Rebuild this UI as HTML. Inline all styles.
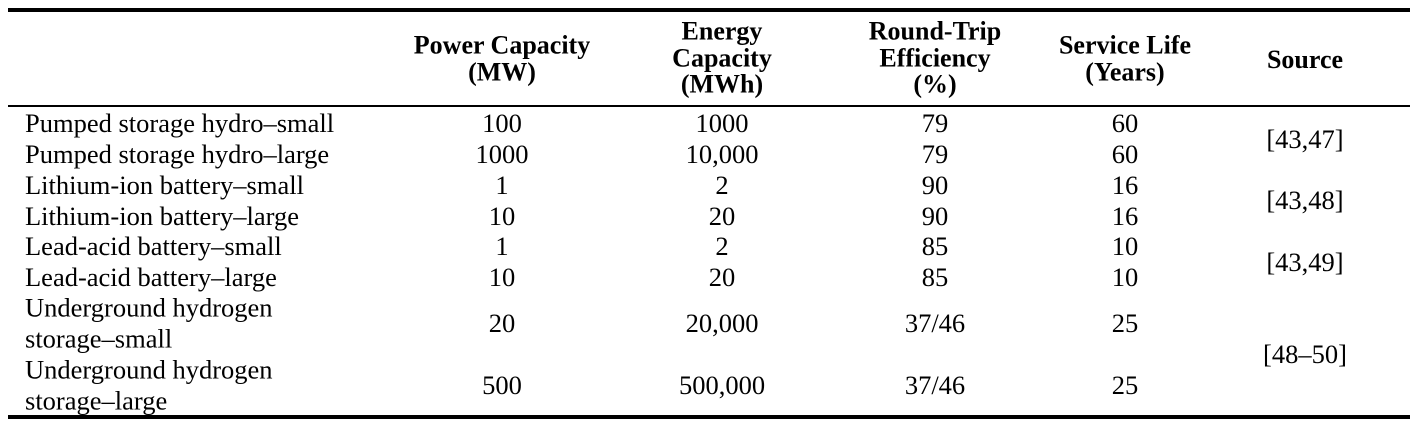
<!DOCTYPE html>
<html><head><meta charset="utf-8"><style>
body{margin:0;width:1410px;height:428px;background:#fff;position:relative;overflow:hidden;font-family:"Liberation Serif","Times New Roman",serif;color:#000}
.r{position:absolute;left:8px;width:1402px;background:#000}
.t{position:absolute;font-size:26.5px;line-height:30px;white-space:nowrap;transform:translate(-50%,-50%)}
.l{position:absolute;font-size:26.5px;line-height:30.5px;white-space:nowrap;left:25px;transform:translateY(-50%)}
.h{position:absolute;font-size:26px;font-weight:bold;line-height:26.5px;text-align:center;white-space:nowrap;transform:translate(-50%,-50%)}
</style></head><body>
<div class="r" style="top:8px;height:4px"></div>
<div class="r" style="top:105px;height:2px"></div>
<div class="r" style="top:415px;height:4px"></div>

<div class="h" style="left:502px;top:59px">Power Capacity<br>(MW)</div>
<div class="h" style="left:722px;top:58px">Energy<br>Capacity<br>(MWh)</div>
<div class="h" style="left:935px;top:58px">Round-Trip<br>Efficiency<br>(%)</div>
<div class="h" style="left:1125px;top:59px">Service Life<br>(Years)</div>
<div class="h" style="left:1305px;top:60px">Source</div>

<div class="l" style="top:123px">Pumped storage hydro–small</div>
<div class="l" style="top:154px">Pumped storage hydro–large</div>
<div class="l" style="top:185px">Lithium-ion battery–small</div>
<div class="l" style="top:216px">Lithium-ion battery–large</div>
<div class="l" style="top:246px">Lead-acid battery–small</div>
<div class="l" style="top:277px">Lead-acid battery–large</div>
<div class="l" style="top:323px">Underground hydrogen<br>storage–small</div>
<div class="l" style="top:385px">Underground hydrogen<br>storage–large</div>

<div class="t" style="left:502px;top:123px">100</div>
<div class="t" style="left:502px;top:154px">1000</div>
<div class="t" style="left:502px;top:185px">1</div>
<div class="t" style="left:502px;top:216px">10</div>
<div class="t" style="left:502px;top:246px">1</div>
<div class="t" style="left:502px;top:277px">10</div>
<div class="t" style="left:502px;top:323px">20</div>
<div class="t" style="left:502px;top:385px">500</div>

<div class="t" style="left:722px;top:123px">1000</div>
<div class="t" style="left:722px;top:154px">10,000</div>
<div class="t" style="left:722px;top:185px">2</div>
<div class="t" style="left:722px;top:216px">20</div>
<div class="t" style="left:722px;top:246px">2</div>
<div class="t" style="left:722px;top:277px">20</div>
<div class="t" style="left:722px;top:323px">20,000</div>
<div class="t" style="left:722px;top:385px">500,000</div>

<div class="t" style="left:935px;top:123px">79</div>
<div class="t" style="left:935px;top:154px">79</div>
<div class="t" style="left:935px;top:185px">90</div>
<div class="t" style="left:935px;top:216px">90</div>
<div class="t" style="left:935px;top:246px">85</div>
<div class="t" style="left:935px;top:277px">85</div>
<div class="t" style="left:935px;top:323px">37/46</div>
<div class="t" style="left:935px;top:385px">37/46</div>

<div class="t" style="left:1125px;top:123px">60</div>
<div class="t" style="left:1125px;top:154px">60</div>
<div class="t" style="left:1125px;top:185px">16</div>
<div class="t" style="left:1125px;top:216px">16</div>
<div class="t" style="left:1125px;top:246px">10</div>
<div class="t" style="left:1125px;top:277px">10</div>
<div class="t" style="left:1125px;top:323px">25</div>
<div class="t" style="left:1125px;top:385px">25</div>

<div class="t" style="left:1305px;top:139px">[43,47]</div>
<div class="t" style="left:1305px;top:200px">[43,48]</div>
<div class="t" style="left:1305px;top:262px">[43,49]</div>
<div class="t" style="left:1305px;top:354px">[48–50]</div>
</body></html>
